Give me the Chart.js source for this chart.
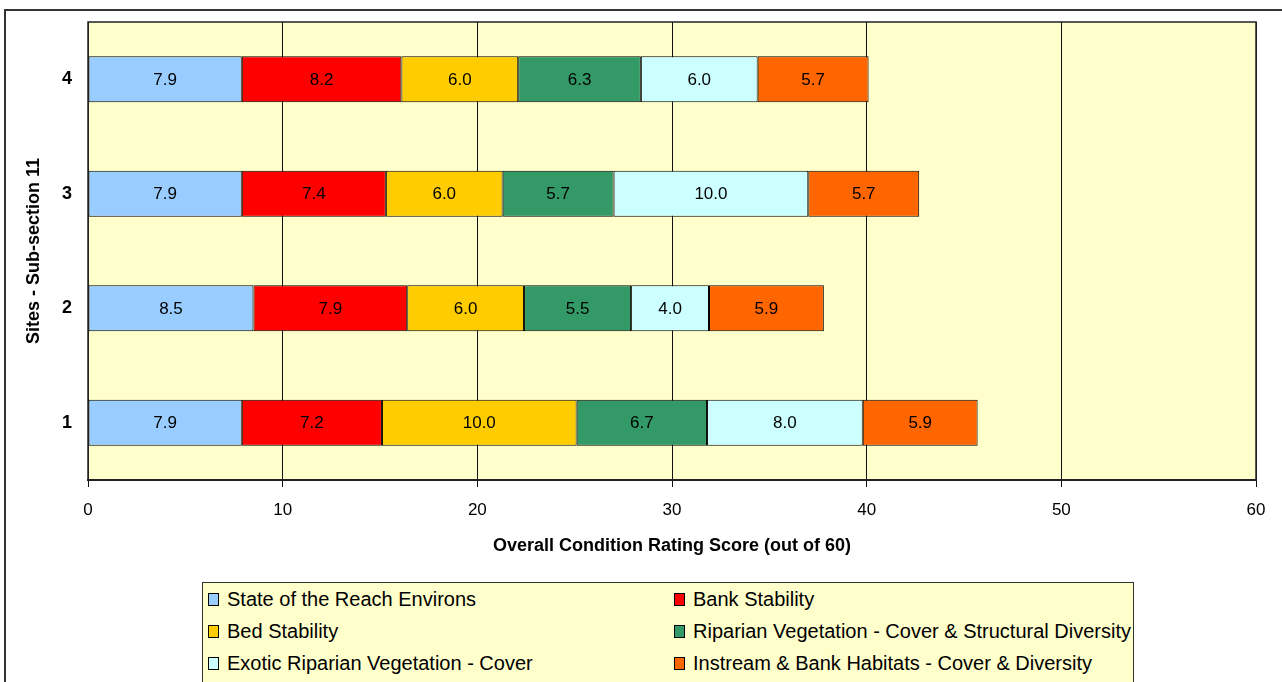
<!DOCTYPE html>
<html>
<head>
<meta charset="utf-8">
<script src="https://cdn.jsdelivr.net/npm/chart.js@4/dist/chart.umd.min.js"></script>
<style>
  html, body { margin: 0; padding: 0; background: #fff; overflow: hidden; }
  body { width: 1282px; height: 682px; position: relative; font-family: "Liberation Sans", Arial, sans-serif; }
  #frame { position: absolute; left: 4px; top: 9px; width: 1300px; height: 700px;
           border-top: 2px solid #333; border-left: 2px solid #333; }
  #c { position: absolute; left: 0; top: 0; }
  #legend { position: absolute; left: 202px; top: 582px; width: 930px; height: 130px;
            background: #FFFFCC; border: 1px solid #333;
            display: grid; grid-template-columns: 466px 464px; grid-auto-rows: 32px; }
  .item { display: flex; align-items: center; font-size: 20px; color: #000; white-space: nowrap; }
  .item .box { width: 9px; height: 11px; border: 1px solid #000; margin: 0 8px 0 5px; flex: none; }
</style>
</head>
<body>
<div id="frame"></div>
<canvas id="c" width="1282" height="682"></canvas>
<div id="legend"></div>
<script>
const sites = ['1', '2', '3', '4'];
const seriesNames = [
  'State of the Reach Environs',
  'Bank Stability',
  'Bed Stability',
  'Riparian Vegetation - Cover & Structural Diversity',
  'Exotic Riparian Vegetation - Cover',
  'Instream & Bank Habitats - Cover & Diversity'
];
const colors = ['#99CCFF', '#FF0000', '#FFCC00', '#339966', '#CCFFFF', '#FF6600'];

// values per site 1..4
const reachEnvirons = [7.9, 8.5, 7.9, 7.9];
const bankStability = [7.2, 7.9, 7.4, 8.2];
const bedStability = [10.0, 6.0, 6.0, 6.0];
const riparianVeg = [6.7, 5.5, 5.7, 6.3];
const exoticVeg = [8.0, 4.0, 10.0, 6.0];
const instreamHabitats = [5.9, 5.9, 5.7, 5.7];

const xTicks = [0, 10, 20, 30, 40, 50, 60];

const seriesData = [reachEnvirons, bankStability, bedStability, riparianVeg, exoticVeg, instreamHabitats];

Chart.defaults.font.family = '"Liberation Sans", Arial, sans-serif';
Chart.defaults.color = '#000';

const plotBg = {
  id: 'plotBg',
  beforeDraw(chart) {
    const { ctx, chartArea: a } = chart;
    ctx.save();
    ctx.fillStyle = '#FFFFCC';
    ctx.fillRect(a.left, a.top, a.right - a.left, a.bottom - a.top);
    ctx.restore();
  },
  afterDraw(chart) {
    const { ctx, chartArea: a } = chart;
    ctx.save();
    ctx.strokeStyle = '#222';
    ctx.lineWidth = 1.5;
    ctx.strokeRect(a.left, a.top, a.right - a.left, a.bottom - a.top);
    ctx.restore();
  }
};

const segLabels = {
  id: 'segLabels',
  afterDatasetsDraw(chart) {
    const { ctx } = chart;
    ctx.save();
    ctx.font = '17px "Liberation Sans", Arial, sans-serif';
    ctx.fillStyle = '#000';
    ctx.textAlign = 'center';
    ctx.textBaseline = 'middle';
    chart.data.datasets.forEach((ds, i) => {
      chart.getDatasetMeta(i).data.forEach((bar, j) => {
        const cx = (bar.x + bar.base) / 2;
        ctx.fillText(ds.data[j].toFixed(1), cx, bar.y + 1);
      });
    });
    ctx.restore();
  }
};

const chart = new Chart(document.getElementById('c'), {
  type: 'bar',
  data: {
    labels: sites,
    datasets: seriesNames.map((name, i) => ({
      label: name,
      data: seriesData[i],
      backgroundColor: colors[i],
      borderColor: '#000',
      borderWidth: 1,
      borderSkipped: false,
      barPercentage: 0.4,
      categoryPercentage: 1
    }))
  },
  options: {
    indexAxis: 'y',
    responsive: false,
    animation: false,
    layout: { padding: { top: 22, right: 26, bottom: 112, left: 0 } },
    plugins: { legend: { display: false }, tooltip: { enabled: false } },
    scales: {
      x: {
        stacked: true,
        min: 0,
        max: 60,
        afterFit(s) { s.height = 90; },
        afterBuildTicks(s) { s.ticks = xTicks.map(v => ({ value: v })); },
        ticks: { font: { size: 17 }, padding: 13, color: '#000' },
        grid: { color: '#111', lineWidth: 1, tickLength: 7 },
        border: { color: '#222', width: 2 },
        title: {
          display: true,
          text: 'Overall Condition Rating Score (out of 60)',
          font: { size: 18, weight: 'bold' },
          padding: { top: 0, bottom: 13 }
        }
      },
      y: {
        stacked: true,
        reverse: true,
        afterFit(s) { s.width = 88; s.paddingTop = 0; s.paddingBottom = 0; },
        ticks: { font: { size: 18, weight: 'bold' }, padding: 16, color: '#000' },
        grid: { display: false, drawTicks: false },
        border: { color: '#222', width: 1 },
        title: {
          display: true,
          text: 'Sites - Sub-section 11',
          font: { size: 18, weight: 'bold' },
          padding: { top: 23, bottom: 0 }
        }
      }
    }
  },
  plugins: [plotBg, segLabels]
});

const legendEl = document.getElementById('legend');
chart.data.datasets.forEach(ds => {
  const item = document.createElement('div');
  item.className = 'item';
  const box = document.createElement('span');
  box.className = 'box';
  box.style.background = ds.backgroundColor;
  item.appendChild(box);
  item.appendChild(document.createTextNode(ds.label));
  legendEl.appendChild(item);
});
</script>
</body>
</html>
